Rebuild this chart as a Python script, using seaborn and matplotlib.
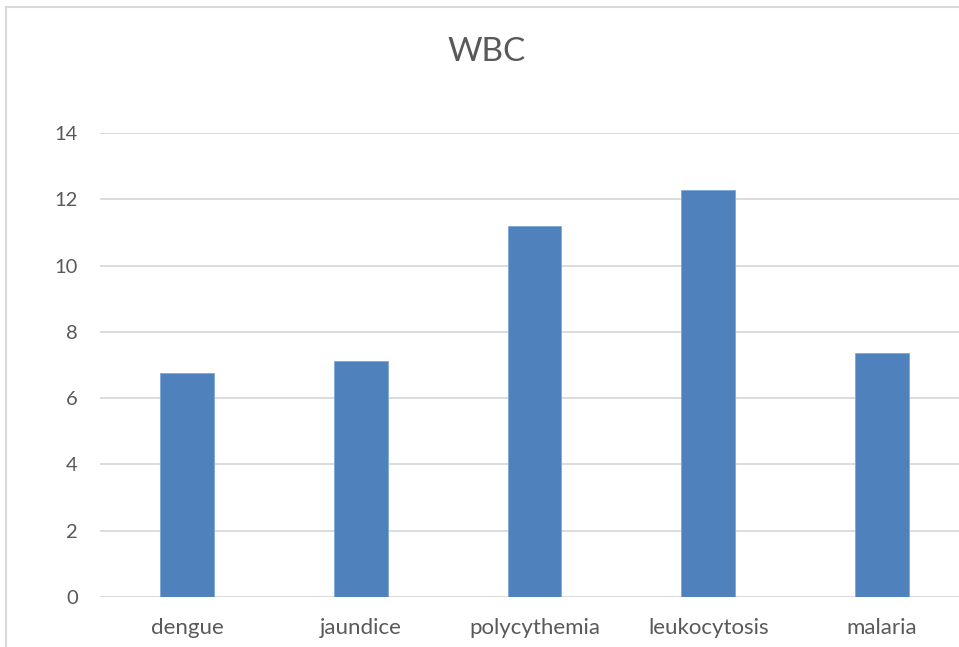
import matplotlib
matplotlib.use("Agg")
import matplotlib.pyplot as plt
import seaborn as sns
import pandas as pd
from matplotlib.patches import Rectangle

categories = ["dengue", "jaundice", "polycythemia", "leukocytosis", "malaria"]
wbc_values = [6.75, 7.12, 11.2, 12.29, 7.35]
y_ticks = [0, 2, 4, 6, 8, 10, 12, 14]

df = pd.DataFrame({"disease": categories, "wbc": wbc_values})

sns.set_style("white")
plt.rcParams["font.family"] = ["Lato", "DejaVu Sans"]

text_color = "#595959"
grid_color = "#D9D9D9"
bar_color = "#4F81BD"

fig = plt.figure(figsize=(9.59, 6.47), dpi=100)
ax = fig.add_axes([100 / 959, 50 / 647, 869 / 959, 464 / 647])

sns.barplot(data=df, x="disease", y="wbc", color=bar_color, width=0.31,
            saturation=1, ax=ax, zorder=3)
for p in ax.patches:
    p.set_edgecolor("#7EA6D6")
    p.set_linewidth(0.6)

ax.set_ylim(0, 14)
ax.set_xlim(-0.5, 4.5)
ax.set_yticks(y_ticks)
ax.set_yticklabels([str(t) for t in y_ticks])
ax.yaxis.grid(True, color=grid_color, linewidth=1.3, zorder=0)
ax.set_axisbelow(True)
for s in ax.spines.values():
    s.set_visible(False)
ax.tick_params(axis="both", length=0, colors=text_color)
ax.tick_params(axis="y", pad=16, labelsize=14.5)
ax.tick_params(axis="x", pad=15, labelsize=16)
ax.set_xlabel("")
ax.set_ylabel("")

fig.text(487 / 959, 1 - 52 / 647, "WBC", ha="center", va="center",
         fontsize=24, color=text_color)

# chart area border
fig.patches.append(Rectangle((6 / 959, -0.1), 1.2, 1 - 7 / 647 + 0.1,
                             transform=fig.transFigure, fill=False,
                             edgecolor=grid_color, linewidth=1.5))

fig.savefig("out.png", dpi=100)
